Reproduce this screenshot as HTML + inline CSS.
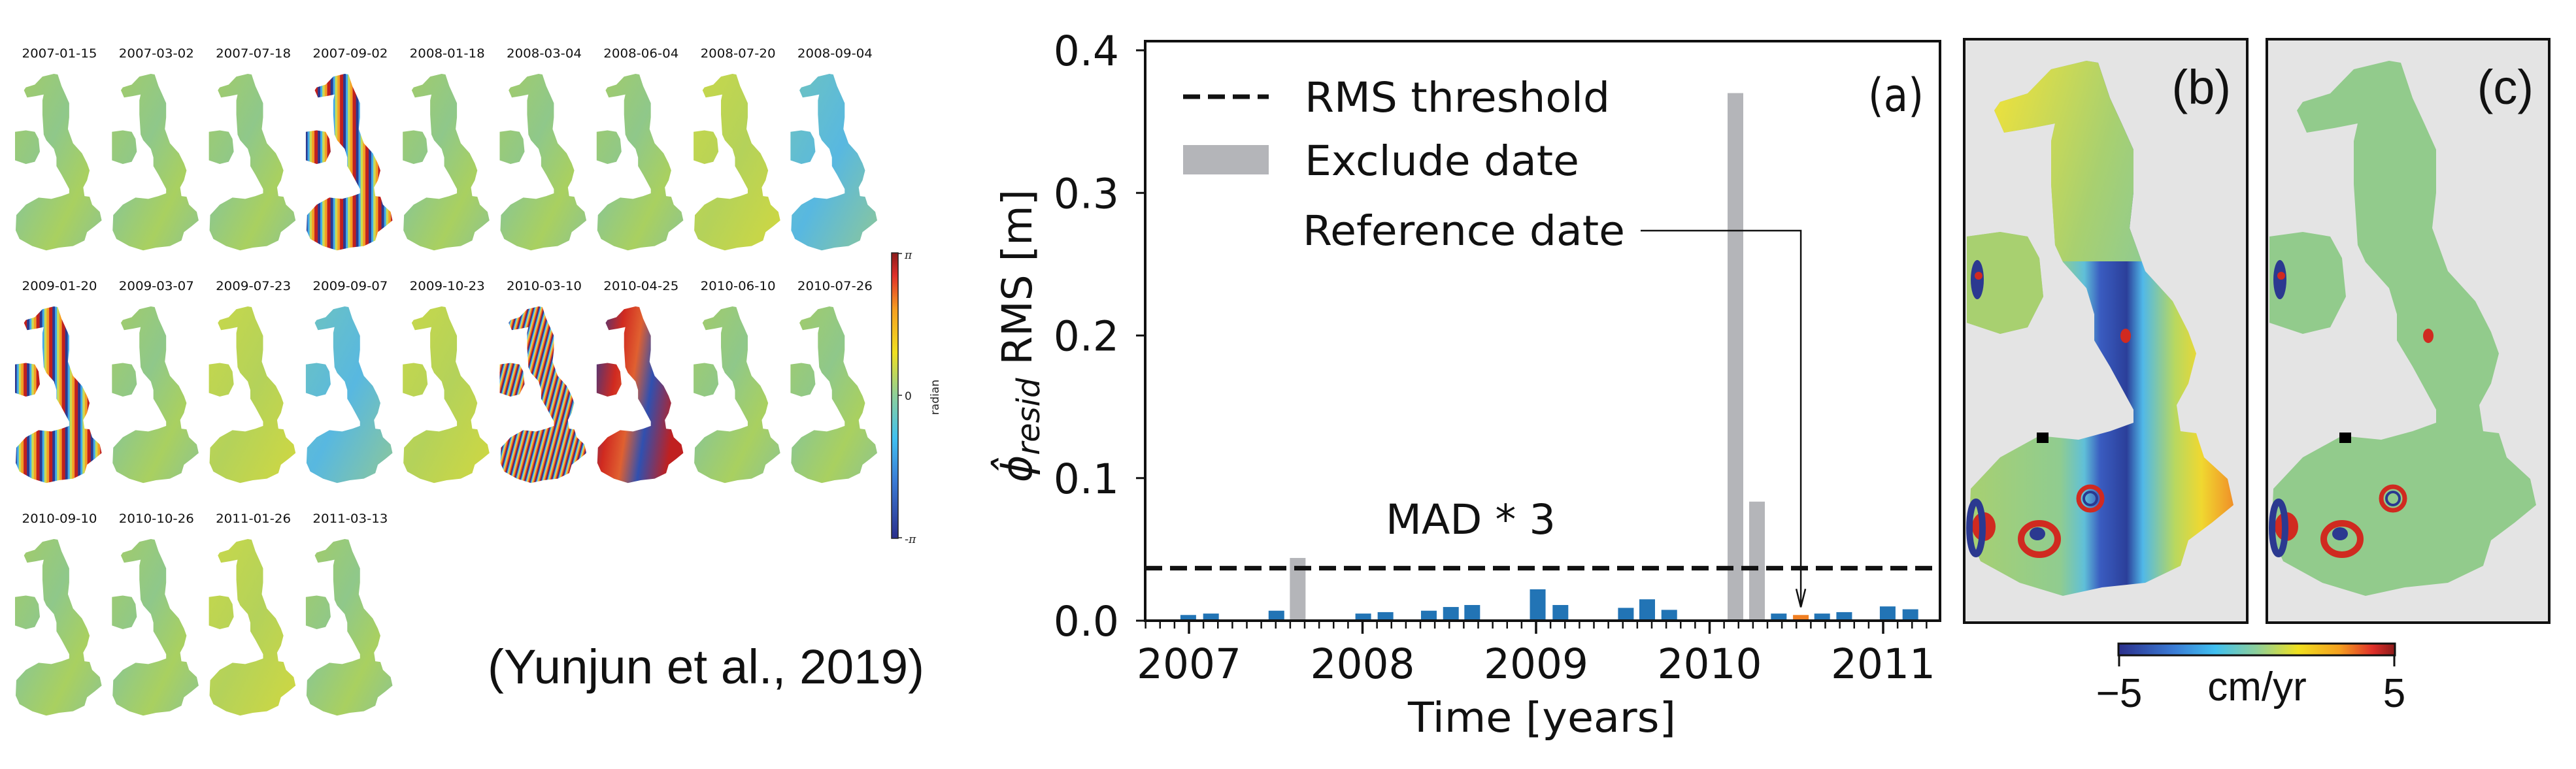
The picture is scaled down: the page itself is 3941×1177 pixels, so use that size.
<!DOCTYPE html>
<html><head><meta charset="utf-8"><style>
html,body{margin:0;padding:0;background:#fff;}
svg{display:block;}
</style></head><body>
<svg id="root" width="3941" height="1177" viewBox="0 0 3941 1177" xmlns="http://www.w3.org/2000/svg">
<defs>
<linearGradient id="gNorm" x1="0" y1="0" x2="1" y2="1">
<stop offset="0" stop-color="#a3cc68"/><stop offset="0.4" stop-color="#8fc88a"/><stop offset="0.7" stop-color="#a9d060"/><stop offset="1" stop-color="#8ec58e"/></linearGradient>
<linearGradient id="gYel" x1="0" y1="0" x2="1" y2="1">
<stop offset="0" stop-color="#c8d84a"/><stop offset="0.5" stop-color="#b4d25a"/><stop offset="1" stop-color="#d0d840"/></linearGradient>
<linearGradient id="gBlue" x1="0" y1="0" x2="1" y2="1">
<stop offset="0" stop-color="#6ec3c0"/><stop offset="0.5" stop-color="#58b8e0"/><stop offset="1" stop-color="#8cc79a"/></linearGradient>
<pattern id="pWide" width="60" height="10" patternUnits="userSpaceOnUse">
<rect x="0" width="12" height="10" fill="#2b3990"/><rect x="12" width="10" height="10" fill="#40a8e8"/><rect x="22" width="10" height="10" fill="#c8dc50"/><rect x="32" width="12" height="10" fill="#f5a020"/><rect x="44" width="16" height="10" fill="#c0201e"/></pattern>
<pattern id="pNarrow" width="24" height="10" patternUnits="userSpaceOnUse" patternTransform="rotate(15)">
<rect x="0" width="5" height="10" fill="#2b3990"/><rect x="5" width="5" height="10" fill="#40b0e8"/><rect x="10" width="4" height="10" fill="#e8e040"/><rect x="14" width="5" height="10" fill="#f08020"/><rect x="19" width="5" height="10" fill="#c0201e"/></pattern>
<linearGradient id="gRed" x1="0" y1="0" x2="1" y2="0.3">
<stop offset="0" stop-color="#2b3990"/><stop offset="0.3" stop-color="#d02a20"/><stop offset="0.5" stop-color="#e06030"/><stop offset="0.7" stop-color="#3050b0"/><stop offset="1" stop-color="#c02020"/></linearGradient>
<linearGradient id="jetV" x1="0" y1="1" x2="0" y2="0">
<stop offset="0" stop-color="#2b2f8c"/><stop offset="0.2" stop-color="#3a7bd5"/><stop offset="0.35" stop-color="#40c0f0"/><stop offset="0.5" stop-color="#8dcf9a"/><stop offset="0.65" stop-color="#f0e020"/><stop offset="0.8" stop-color="#f5a020"/><stop offset="0.92" stop-color="#e0302a"/><stop offset="1" stop-color="#8b1a1a"/></linearGradient>
<linearGradient id="jetH" x1="0" y1="0" x2="1" y2="0">
<stop offset="0" stop-color="#2b2f8c"/><stop offset="0.2" stop-color="#3a7bd5"/><stop offset="0.35" stop-color="#40c0f0"/><stop offset="0.5" stop-color="#8dcf9a"/><stop offset="0.65" stop-color="#f0e020"/><stop offset="0.8" stop-color="#f5a020"/><stop offset="0.92" stop-color="#e0302a"/><stop offset="1" stop-color="#8b1a1a"/></linearGradient>
<linearGradient id="gPanelB" x1="0" y1="0" x2="1" y2="0">
<stop offset="0" stop-color="#a8d070"/><stop offset="0.35" stop-color="#90cc90"/><stop offset="0.44" stop-color="#60c0d8"/><stop offset="0.5" stop-color="#3a5cc0"/><stop offset="0.6" stop-color="#2b3f9a"/><stop offset="0.66" stop-color="#50b8e8"/><stop offset="0.78" stop-color="#b8d860"/><stop offset="0.88" stop-color="#f0d830"/><stop offset="1" stop-color="#f09028"/></linearGradient>
<linearGradient id="gTopB" x1="0" y1="0" x2="1" y2="0.6">
<stop offset="0" stop-color="#f0b030"/><stop offset="0.12" stop-color="#e8e040"/><stop offset="0.45" stop-color="#a8d070"/><stop offset="0.8" stop-color="#80c8a8"/><stop offset="1" stop-color="#70c0c0"/></linearGradient>
<clipPath id="clipB"><rect x="3005" y="60" width="433" height="893"/></clipPath>
<clipPath id="clipC"><rect x="3468" y="60" width="432" height="893"/></clipPath>
<clipPath id="clipTopB"><rect x="3005" y="60" width="433" height="340"/></clipPath>
</defs>

<g id="thumbs"></g>

<g>
<rect x="1364" y="387" width="10" height="437" fill="url(#jetV)" stroke="#222" stroke-width="1.5"/>
<line x1="1374" y1="388" x2="1380" y2="388" stroke="#222" stroke-width="1.5"/>
<line x1="1374" y1="605" x2="1380" y2="605" stroke="#222" stroke-width="1.5"/>
<line x1="1374" y1="823" x2="1380" y2="823" stroke="#222" stroke-width="1.5"/>
<text x="1384" y="396" font-family="DejaVu Serif, serif" font-style="italic" font-size="17" fill="#222">π</text>
<text x="1384" y="612" font-family="DejaVu Sans, sans-serif" font-size="17" fill="#222">0</text>
<text x="1384" y="831" font-family="DejaVu Sans, sans-serif" font-size="17" fill="#222">-<tspan font-style="italic" font-family="DejaVu Serif, serif">π</tspan></text>
<text x="1436" y="608" transform="rotate(-90 1436 608)" text-anchor="middle" font-family="DejaVu Sans, sans-serif" font-size="17" fill="#222">radian</text>
</g>

<text x="1080" y="1046" text-anchor="middle" font-family="Liberation Sans, sans-serif" font-size="74" textLength="668" lengthAdjust="spacingAndGlyphs" fill="#111">(Yunjun et al., 2019)</text>

<g id="chart"></g>

<g>
<rect x="3005" y="60" width="433" height="893" fill="#e4e4e4"/>
<g clip-path="url(#clipB)" id="islandB"></g>
<rect x="3005" y="60" width="433" height="893" fill="none" stroke="#111" stroke-width="4"/>
<text x="3413" y="159" text-anchor="end" font-family="Liberation Sans, sans-serif" font-size="74" fill="#111">(b)</text>
</g>
<g>
<rect x="3468" y="60" width="432" height="893" fill="#e4e4e4"/>
<g clip-path="url(#clipC)" id="islandC"></g>
<rect x="3468" y="60" width="432" height="893" fill="none" stroke="#111" stroke-width="4"/>
<text x="3876" y="159" text-anchor="end" font-family="Liberation Sans, sans-serif" font-size="74" fill="#111">(c)</text>
</g>
<g>
<rect x="3241" y="985" width="423" height="18" fill="url(#jetH)" stroke="#111" stroke-width="3"/>
<line x1="3242" y1="1003" x2="3242" y2="1020" stroke="#111" stroke-width="3"/>
<line x1="3663" y1="1003" x2="3663" y2="1020" stroke="#111" stroke-width="3"/>
<text x="3242" y="1082" text-anchor="middle" font-family="Liberation Sans, sans-serif" font-size="62" fill="#111">−5</text>
<text x="3453" y="1072" text-anchor="middle" font-family="Liberation Sans, sans-serif" font-size="62" fill="#111">cm/yr</text>
<text x="3663" y="1082" text-anchor="middle" font-family="Liberation Sans, sans-serif" font-size="62" fill="#111">5</text>
</g>
</svg>

<script>
var NS = 'http://www.w3.org/2000/svg';
var dates = ['2007-01-15','2007-03-02','2007-07-18','2007-09-02','2008-01-18','2008-03-04','2008-06-04','2008-07-20','2008-09-04','2009-01-20','2009-03-07','2009-07-23','2009-09-07','2009-10-23','2010-03-10','2010-04-25','2010-06-10','2010-07-26','2010-09-10','2010-10-26','2011-01-26','2011-03-13'];
var rmsValues = [0.004,0.005,0.007,0.044,0.005,0.006,0.007,0.0096,0.011,0.022,0.011,0.009,0.015,0.0076,0.370,0.0835,0.005,0.004,0.005,0.006,0.010,0.008];
var excluded = [3,14,15];
var referenceIndex = 17;
var threshold = [0.0368];
var yTicks = [0.0,0.1,0.2,0.3,0.4];
var yTickLabels = ['0.0','0.1','0.2','0.3','0.4'];
var xTicks = [2007,2008,2009,2010,2011];
var xTickLabels = ['2007','2008','2009','2010','2011'];
var thumbStyles = ['gNorm','gNorm','gNorm','pWide','gNorm','gNorm','gNorm','gYel','gBlue','pWide','gNorm','gYel','gBlue','gYel','pNarrow','gRed','gNorm','gNorm','gNorm','gNorm','gYel','gNorm'];

function decYear(s){var p=s.split('-');var m=+p[1],d=+p[2];return +p[0]+((m-1)*30.4+d)/365;}
var X0=1819, PXY=265.5, Y0=950, PXV=2182.5;
function xS(t){return X0+(t-2007)*PXY;}
function yS(v){return Y0-v*PXV;}
function el(tag, attrs, parent){var e=document.createElementNS(NS,tag);for(var k in attrs)e.setAttribute(k,attrs[k]);parent.appendChild(e);return e;}

var chart=document.getElementById('chart');
var FONT='DejaVu Sans, sans-serif';
var bw=24;
for(var i=0;i<dates.length;i++){
  var t=decYear(dates[i]);var xr=xS(t);
  var col='#2274b5';
  if(excluded.indexOf(i)>=0) col='#b4b5b9';
  if(i===referenceIndex) col='#f07f22';
  var b=el('rect',{x:xr-bw,y:yS(rmsValues[i]),width:bw,height:Y0-yS(rmsValues[i]),fill:col},chart);
  
  
}
var th=el('line',{x1:1752,x2:2968,y1:yS(threshold[0]),y2:yS(threshold[0]),stroke:'#111','stroke-width':7,'stroke-dasharray':'26 12'},chart);


var sp=el('rect',{x:1752,y:63,width:1216,height:Y0-63,fill:'none',stroke:'#111','stroke-width':4},chart);


for(var j=0;j<yTicks.length;j++){
  var yy=yS(yTicks[j]);
  var tk=el('line',{x1:1738,x2:1752,y1:yy,y2:yy,stroke:'#111','stroke-width':3},chart);
  
  
  var tl=el('text',{x:1712,y:yy+23,'text-anchor':'end','font-family':FONT,'font-size':63,fill:'#111'},chart);
  tl.textContent=yTickLabels[j];
  
  
}
for(var m=-3;m<=4*12+4;m++){
  var xm=xS(2007+m/12); if(xm<1752||xm>2968) continue;
  var mt=el('line',{x1:xm,x2:xm,y1:Y0,y2:962,stroke:'#111','stroke-width':2.5},chart);
  
  
}
for(var k=0;k<xTicks.length;k++){
  var xx=xS(xTicks[k]);
  var mj=el('line',{x1:xx,x2:xx,y1:Y0,y2:970,stroke:'#111','stroke-width':3.5},chart);
  
  
  var xl=el('text',{x:xx,y:1038,'text-anchor':'middle','font-family':FONT,'font-size':63,fill:'#111',textLength:160,lengthAdjust:'spacingAndGlyphs'},chart);
  xl.textContent=xTickLabels[k];
  
  
}
var xt=el('text',{x:2359,y:1120,'text-anchor':'middle','font-family':FONT,'font-size':63,fill:'#111',textLength:410,lengthAdjust:'spacingAndGlyphs'},chart);
xt.textContent='Time [years]';


var yt=el('text',{x:1578,y:514,'text-anchor':'middle','font-family':FONT,'font-size':63,fill:'#111',transform:'rotate(-90 1578 514)'},chart);
yt.innerHTML='<tspan font-style="italic">ϕ̂</tspan><tspan font-style="italic" font-size="48" dy="12">resid</tspan><tspan dy="-12"> RMS [m]</tspan>';


var lg=el('line',{x1:1810,x2:1941,y1:148,y2:148,stroke:'#111','stroke-width':7,'stroke-dasharray':'26 12'},chart);


var lt1=el('text',{x:1996,y:171,'font-family':FONT,'font-size':63,fill:'#111',textLength:467,lengthAdjust:'spacingAndGlyphs'},chart);
lt1.textContent='RMS threshold';


var lr=el('rect',{x:1810,y:222,width:131,height:45,fill:'#b4b5b9'},chart);


var lt2=el('text',{x:1996,y:268,'font-family':FONT,'font-size':63,fill:'#111',textLength:420,lengthAdjust:'spacingAndGlyphs'},chart);
lt2.textContent='Exclude date';


var lt3=el('text',{x:1993,y:375,'font-family':FONT,'font-size':63,fill:'#111',textLength:493,lengthAdjust:'spacingAndGlyphs'},chart);
lt3.textContent='Reference date';


var refX=xS(decYear(dates[referenceIndex]))-bw/2;
var ar=el('polyline',{points:'2510,353 '+refX+',353 '+refX+','+(yS(rmsValues[referenceIndex])-14),fill:'none',stroke:'#111','stroke-width':2.5},chart);


var ah=el('polyline',{points:(refX-7)+','+(yS(rmsValues[referenceIndex])-40)+' '+refX+','+(yS(rmsValues[referenceIndex])-12)+' '+(refX+7)+','+(yS(rmsValues[referenceIndex])-40),fill:'none',stroke:'#111','stroke-width':2.5},chart);


var mad=el('text',{x:2120,y:817,'font-family':FONT,'font-size':63,fill:'#111',textLength:260,lengthAdjust:'spacingAndGlyphs'},chart);
mad.textContent='MAD * 3';


var pa=el('text',{x:2943,y:170,'text-anchor':'end','font-family':FONT,'font-size':70,fill:'#111',textLength:85,lengthAdjust:'spacingAndGlyphs'},chart);
pa.textContent='(a)';



var mainPts=[[46,109],[55,96],[97,83],[133,46],[187,33],[205,36],[223,90],[241,129],[259,169],[259,235],[253,289],[277,355],[319,401],[343,448],[355,481],[343,527],[325,560],[331,600],[355,603],[367,640],[403,673],[412,713],[379,740],[343,767],[331,806],[277,832],[211,839],[151,852],[85,832],[25,799],[7,759],[10,688],[55,640],[115,607],[175,613],[223,600],[259,587],[259,567],[223,501],[199,461],[199,421],[187,381],[151,341],[139,315],[133,222],[133,156],[139,129],[103,136],[61,143]];
var smallPts=[[4,302],[55,295],[97,302],[115,335],[121,394],[97,441],[55,451],[4,434]];
function pth(p){return 'M'+p.map(function(q){return q[0]+','+q[1];}).join(' L')+' Z';}
var islandD=pth(mainPts)+' '+pth(smallPts);
var mainD=pth(mainPts);

var thumbs=document.getElementById('thumbs');
for(var n=0;n<dates.length;n++){
  var row=Math.floor(n/9), col=n%9;
  var gx=col*148.3, gy=row*356;
  var lab=el('text',{x:91+gx,y:88+gy,'text-anchor':'middle','font-family':FONT,'font-size':19,fill:'#111',textLength:115,lengthAdjust:'spacingAndGlyphs'},thumbs);
  lab.textContent=dates[n];
  
  
  var sh=el('path',{d:islandD,fill:'url(#'+thumbStyles[n]+')',transform:'translate('+(23+gx)+','+(113+gy)+') scale(0.325,0.33) translate(-4,-33)'},thumbs);
  
  
}
function panel(id,ox,fill,topFill){
  var g=document.getElementById(id);
  var s=el('path',{d:islandD,fill:fill,transform:'translate('+ox+',60)'},g);
  
  
  if(topFill){
    var tg=el('g',{'clip-path':'url(#clipTopB)'},g);
    el('path',{d:mainD,fill:topFill,transform:'translate('+ox+',60)'},tg);
    el('path',{d:pth(smallPts),fill:'#a8d070',transform:'translate('+ox+',60)'},g);
  }
  el('ellipse',{cx:ox+20,cy:60+368,rx:10,ry:30,fill:'#2b3990'},g);
  el('circle',{cx:ox+22,cy:60+362,r:6,fill:'#d02a20'},g);
  el('ellipse',{cx:ox+247,cy:60+454,rx:8,ry:11,fill:'#d02a20'},g);
  el('circle',{cx:ox+193,cy:60+703,r:18,fill:'none',stroke:'#d02a20','stroke-width':7},g);
  el('circle',{cx:ox+193,cy:60+703,r:10,fill:'none',stroke:'#2b3990','stroke-width':4},g);
  el('ellipse',{cx:ox+30,cy:60+746,rx:18,ry:22,fill:'#d02a20'},g);
  el('ellipse',{cx:ox+18,cy:60+748,rx:10,ry:40,fill:'none',stroke:'#2b3990','stroke-width':10},g);
  el('ellipse',{cx:ox+115,cy:60+765,rx:28,ry:24,fill:'none',stroke:'#d02a20','stroke-width':10},g);
  el('ellipse',{cx:ox+112,cy:60+757,rx:12,ry:10,fill:'#2b3990'},g);
  var sq=el('rect',{x:ox+111,y:60+602,width:18,height:16,fill:'#000'},g);
  
  
}
panel('islandB',3005,'url(#gPanelB)','url(#gTopB)');
panel('islandC',3468,'#92cb8c',null);
</script>
</body></html>
